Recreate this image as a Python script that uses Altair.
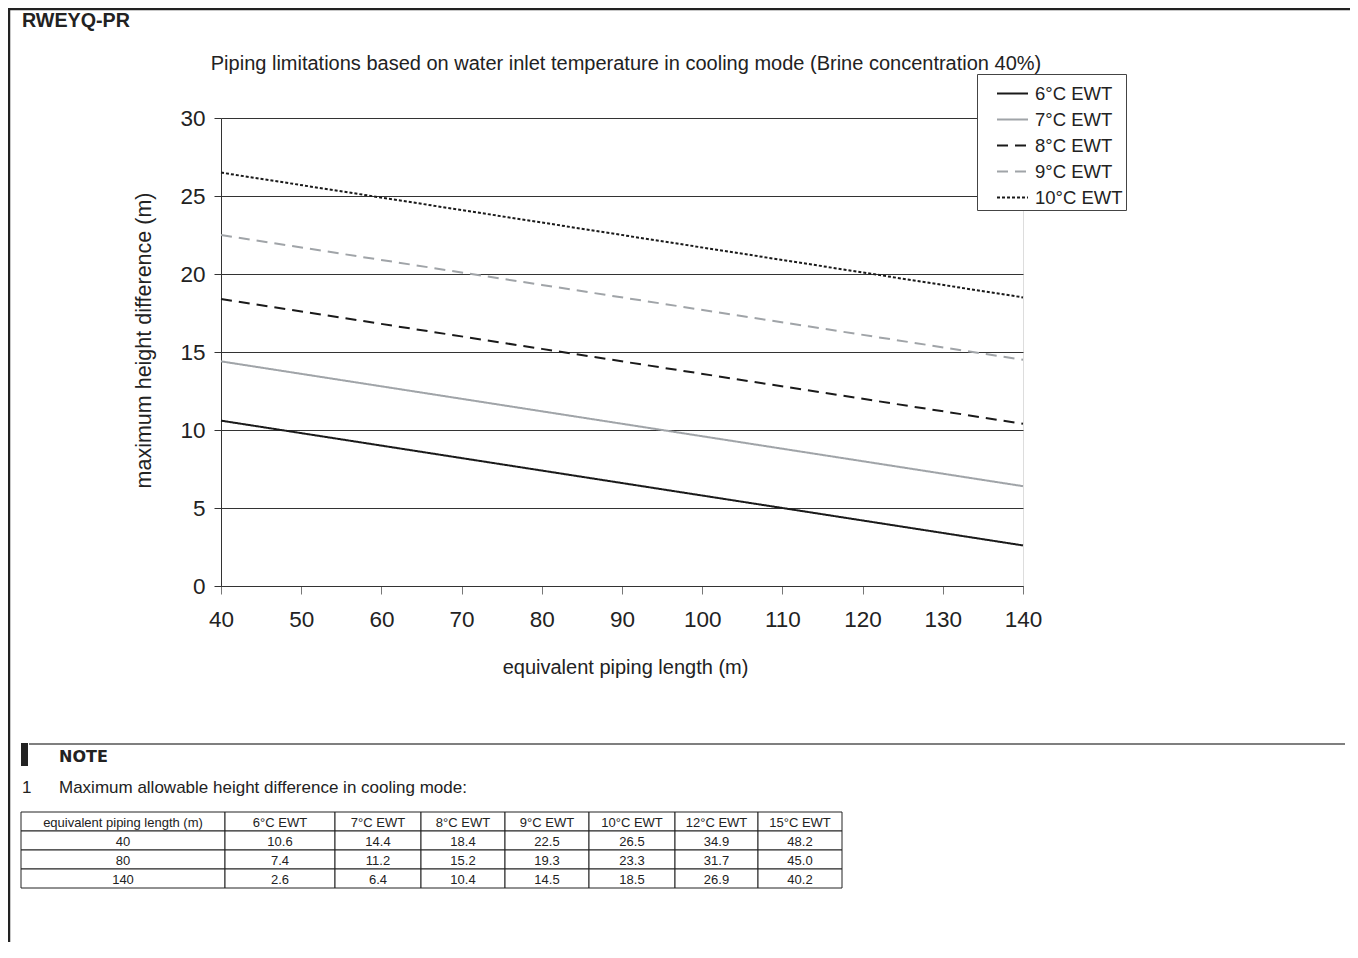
import altair as alt
import pandas as pd

# ---------------- data ----------------
lengths = [40, 80, 140]
ewt_all = ["6°C EWT", "7°C EWT", "8°C EWT", "9°C EWT", "10°C EWT", "12°C EWT", "15°C EWT"]
h6 = [10.6, 7.4, 2.6]
h7 = [14.4, 11.2, 6.4]
h8 = [18.4, 15.2, 10.4]
h9 = [22.5, 19.3, 14.5]
h10 = [26.5, 23.3, 18.5]
h12 = [34.9, 31.7, 26.9]
h15 = [48.2, 45.0, 40.2]
plotted = ["6°C EWT", "7°C EWT", "8°C EWT", "9°C EWT", "10°C EWT"]
x_ticks = [40, 50, 60, 70, 80, 90, 100, 110, 120, 130, 140]
y_ticks = [0, 5, 10, 15, 20, 25, 30]
table_header = ["equivalent piping length (m)"] + ewt_all

heights = dict(zip(ewt_all, [h6, h7, h8, h9, h10, h12, h15]))

# ---------------- styles / layout ----------------
FONT = "Liberation Sans, Arial, Helvetica, sans-serif"
TXT = "#222222"
W, H = 802, 468
OX, OY = 221, 118  # plot origin on page
line_colors = ["#1a1a1a", "#a0a4a8", "#1a1a1a", "#a0a4a8", "#1a1a1a"]
line_dashes = [[1, 0], [1, 0], [11, 7], [11, 7], [3, 2]]

col_edges = [21, 225, 335, 421, 505, 589, 675, 758, 842]
row_edges = [812, 831, 850, 869, 888]

# ---------------- line chart ----------------
rows = []
for s in plotted:
    for L, v in zip(lengths, heights[s]):
        rows.append({"series": s, "length": L, "height": v})
df = pd.DataFrame(rows)

leg = alt.Legend(
    orient="none", legendX=756, legendY=-44, title=None,
    symbolType="stroke", symbolSize=961, symbolStrokeWidth=2,
    labelFontSize=18.5, labelFont=FONT, labelColor=TXT,
    padding=3, symbolOffset=16, labelOffset=6, rowPadding=0,
    fillColor="white", strokeColor="#444444",
)

lines = alt.Chart(df).mark_line(strokeWidth=2).encode(
    x=alt.X(
        "length:Q",
        scale=alt.Scale(domain=[40, 140], nice=False, zero=False),
        axis=alt.Axis(
            values=x_ticks, grid=False, domainColor="#333333", tickColor="#777777",
            tickSize=8, labelFontSize=22.5, labelFont=FONT, labelColor=TXT,
            labelPadding=14, labelFlush=False, labelOverlap=False,
            title="equivalent piping length (m)", titleFontSize=20, titleFont=FONT,
            titleFontWeight="normal", titleColor=TXT, titleX=404, titleY=87,
            titleBaseline="alphabetic", titleAlign="center",
        ),
    ),
    y=alt.Y(
        "height:Q",
        scale=alt.Scale(domain=[0, 30], nice=False),
        axis=alt.Axis(
            values=y_ticks, grid=True, gridColor="#333333", gridWidth=1,
            domainColor="#333333", tickColor="#333333", tickSize=7,
            labelFontSize=22.5, labelFont=FONT, labelColor=TXT, labelPadding=9,
            labelFlush=False,
            title="maximum height difference (m)", titleFontSize=21.5, titleFont=FONT,
            titleFontWeight="normal", titleColor=TXT, titleX=-77, titleY=222,
            titleAngle=270, titleBaseline="middle", titleAlign="center",
        ),
    ),
    color=alt.Color("series:N", scale=alt.Scale(domain=plotted, range=line_colors), legend=leg),
    strokeDash=alt.StrokeDash("series:N", scale=alt.Scale(domain=plotted, range=line_dashes), legend=leg),
    order="length:Q",
)


# ---------------- annotations ----------------
def text_layer(txt, x, y, size, weight="normal", font=FONT, align="left"):
    return alt.Chart(alt.Data(values=[{"t": txt}])).mark_text(
        align=align, baseline="alphabetic", fontSize=size, fontWeight=weight,
        font=font, color=TXT,
    ).encode(x=alt.value(x), y=alt.value(y), text="t:N")


def hrule(x1, x2, y, color, width):
    return alt.Chart(alt.Data(values=[{"a": 1}])).mark_rule(color=color, strokeWidth=width).encode(
        x=alt.value(x1), x2=alt.value(x2), y=alt.value(y))


def vrule(x, y1, y2, color, width):
    return alt.Chart(alt.Data(values=[{"a": 1}])).mark_rule(color=color, strokeWidth=width).encode(
        x=alt.value(x), y=alt.value(y1), y2=alt.value(y2))


frame_top = hrule(-213, 1129, -109, "#222222", 2.5)
frame_left = vrule(-212, -110, 824, "#222222", 2.5)
heading = text_layer("RWEYQ-PR", 22 - OX, 27 - OY, 19.7, weight="bold")
title = text_layer(
    "Piping limitations based on water inlet temperature in cooling mode (Brine concentration 40%)",
    626 - OX, 70 - OY, 20, align="center")
note_rule = hrule(29 - OX, 1345 - OX, 744 - OY, "#555555", 1.5)
note_bar = alt.Chart(alt.Data(values=[{"a": 1}])).mark_rect(color="#222222").encode(
    x=alt.value(21 - OX), x2=alt.value(28 - OX), y=alt.value(743 - OY), y2=alt.value(766 - OY))
note_head = text_layer("NOTE", 59 - OX, 762 - OY, 16, weight="bold", font="DejaVu Sans, sans-serif")
note_num = text_layer("1", 22 - OX, 793 - OY, 17)
note_txt = text_layer("Maximum allowable height difference in cooling mode:", 59 - OX, 793 - OY, 17)

# ---------------- table ----------------
cells = []
table_rows = [table_header] + [
    [str(L)] + [f"{heights[s][i]:.1f}" for s in ewt_all] for i, L in enumerate(lengths)
]
for r, row in enumerate(table_rows):
    for c, val in enumerate(row):
        x0, x1 = col_edges[c] - OX, col_edges[c + 1] - OX
        y0, y1 = row_edges[r] - OY, row_edges[r + 1] - OY
        cells.append({"x0": x0, "x1": x1, "y0": y0, "y1": y1,
                      "xc": (x0 + x1) / 2, "yc": (y0 + y1) / 2, "label": val})
cdf = pd.DataFrame(cells)

cell_rects = alt.Chart(cdf).mark_rect(fill="white", stroke="#222222", strokeWidth=1).encode(
    x=alt.X("x0:Q", scale=None), x2="x1:Q",
    y=alt.Y("y0:Q", scale=None), y2="y1:Q",
)
cell_text = alt.Chart(cdf).mark_text(
    align="center", baseline="middle", fontSize=13, font=FONT, color=TXT, dy=1,
).encode(
    x=alt.X("xc:Q", scale=None), y=alt.Y("yc:Q", scale=None), text="label:N",
)

chart = alt.layer(
    frame_top, frame_left, heading, title,
    lines,
    note_rule, note_bar, note_head, note_num, note_txt,
    cell_rects, cell_text,
).resolve_scale(x="independent", y="independent").properties(
    width=W, height=H,
    autosize=alt.AutoSizeParams(type="none"),
    padding={"left": 213, "top": 110, "right": 327, "bottom": 356},
).configure_view(stroke="#888888", strokeWidth=1).configure(background="white")

chart.save("out.html", embed_options={"renderer": "svg", "actions": False})
